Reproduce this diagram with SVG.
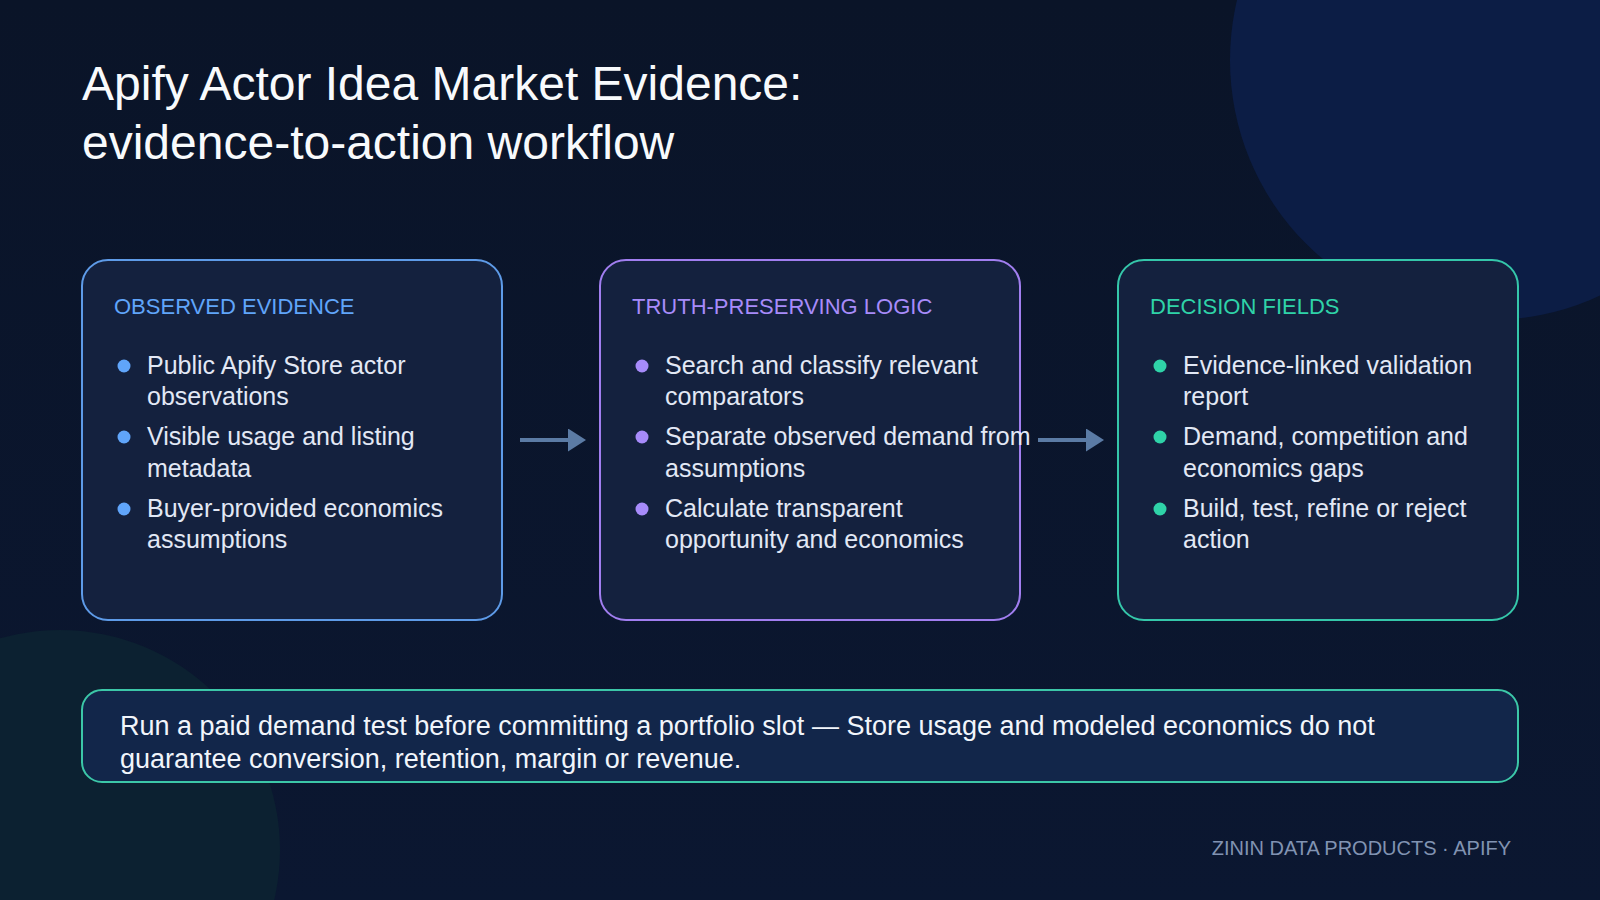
<svg xmlns="http://www.w3.org/2000/svg" width="1600" height="900" viewBox="0 0 1600 900">
  <defs>
    <linearGradient id="bg" x1="0" y1="0" x2="0" y2="1">
      <stop offset="0" stop-color="#0a1428"/>
      <stop offset="1" stop-color="#0b1731"/>
    </linearGradient>
    <marker id="head" viewBox="0 0 18 23" markerWidth="18" markerHeight="23" refX="1" refY="11.5" orient="auto" markerUnits="userSpaceOnUse">
      <path d="M0 0 L18 11.5 L0 23 Z" fill="#5b7ba5"/>
    </marker>
    <style>
      .title { font-family: "Liberation Sans", Arial, sans-serif; font-size: 48px; fill: #f8fafc; }
      .box { fill: #14213e; stroke-width: 2; }
      .label { font-family: "Liberation Sans", Arial, sans-serif; font-size: 22px; }
      .item { font-family: "Liberation Sans", Arial, sans-serif; font-size: 25px; fill: #e2e8f5; }
      .conn { stroke: #5b7ba5; stroke-width: 4; fill: none; }
      .note { font-family: "Liberation Sans", Arial, sans-serif; font-size: 27px; fill: #f1f5fb; }
      .footer { font-family: "Liberation Sans", Arial, sans-serif; font-size: 20px; fill: #8193b2; }
    </style>
  </defs>

  <rect width="1600" height="900" fill="url(#bg)"/>
  <circle cx="1490" cy="60" r="260" fill="#0c1d45"/>
  <circle cx="60" cy="850" r="220" fill="#0c2131"/>

  <text class="title" x="82" y="100">Apify Actor Idea Market Evidence:</text>
  <text class="title" x="82" y="159">evidence-to-action workflow</text>

  <g id="connectors">
    <path class="conn" d="M520 440 H569" marker-end="url(#head)"/>
    <path class="conn" d="M1038 440 H1087" marker-end="url(#head)"/>
  </g>

  <g id="observed-evidence">
    <rect class="box" x="82" y="260" width="420" height="360" rx="26" stroke="#5e9be8"/>
    <text class="label" x="114" y="314" fill="#60a5fa">OBSERVED EVIDENCE</text>
    <circle cx="124" cy="366" r="6.5" fill="#60a5fa"/>
    <text class="item" x="147" y="374">Public Apify Store actor<tspan x="147" y="405">observations</tspan></text>
    <circle cx="124" cy="437" r="6.5" fill="#60a5fa"/>
    <text class="item" x="147" y="445">Visible usage and listing<tspan x="147" y="477">metadata</tspan></text>
    <circle cx="124" cy="509" r="6.5" fill="#60a5fa"/>
    <text class="item" x="147" y="517">Buyer-provided economics<tspan x="147" y="548">assumptions</tspan></text>
  </g>

  <g id="truth-preserving-logic">
    <rect class="box" x="600" y="260" width="420" height="360" rx="26" stroke="#a17ef0"/>
    <text class="label" x="632" y="314" fill="#a78bfa">TRUTH-PRESERVING LOGIC</text>
    <circle cx="642" cy="366" r="6.5" fill="#a78bfa"/>
    <text class="item" x="665" y="374">Search and classify relevant<tspan x="665" y="405">comparators</tspan></text>
    <circle cx="642" cy="437" r="6.5" fill="#a78bfa"/>
    <text class="item" x="665" y="445">Separate observed demand from<tspan x="665" y="477">assumptions</tspan></text>
    <circle cx="642" cy="509" r="6.5" fill="#a78bfa"/>
    <text class="item" x="665" y="517">Calculate transparent<tspan x="665" y="548">opportunity and economics</tspan></text>
  </g>

  <g id="decision-fields">
    <rect class="box" x="1118" y="260" width="400" height="360" rx="26" stroke="#35c7aa"/>
    <text class="label" x="1150" y="314" fill="#2fd3a8">DECISION FIELDS</text>
    <circle cx="1160" cy="366" r="6.5" fill="#2fd3a8"/>
    <text class="item" x="1183" y="374">Evidence-linked validation<tspan x="1183" y="405">report</tspan></text>
    <circle cx="1160" cy="437" r="6.5" fill="#2fd3a8"/>
    <text class="item" x="1183" y="445">Demand, competition and<tspan x="1183" y="477">economics gaps</tspan></text>
    <circle cx="1160" cy="509" r="6.5" fill="#2fd3a8"/>
    <text class="item" x="1183" y="517">Build, test, refine or reject<tspan x="1183" y="548">action</tspan></text>
  </g>

  <g id="caveat">
    <rect x="82" y="690" width="1436" height="92" rx="20" fill="#12264a" stroke="#3cc7a8" stroke-width="2"/>
    <text class="note" x="120" y="735">Run a paid demand test before committing a portfolio slot — Store usage and modeled economics do not<tspan x="120" y="768">guarantee conversion, retention, margin or revenue.</tspan></text>
  </g>

  <text class="footer" x="1511" y="855" text-anchor="end">ZININ DATA PRODUCTS · APIFY</text>
</svg>
